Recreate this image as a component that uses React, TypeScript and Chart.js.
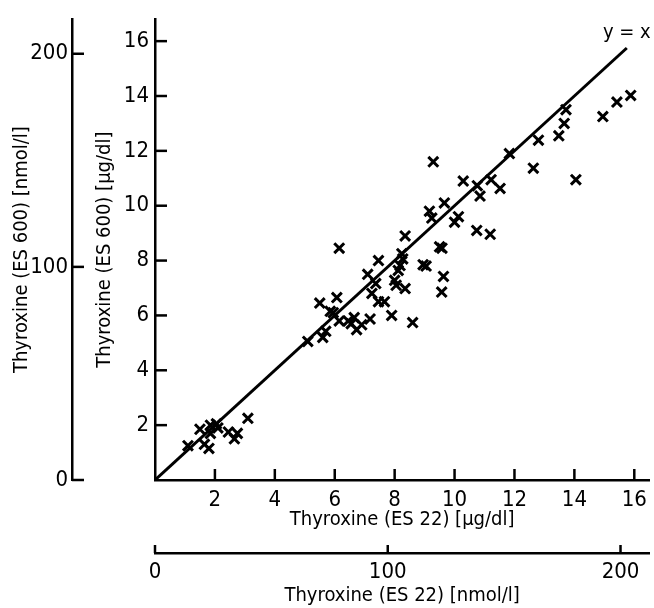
import { useEffect, useRef } from 'react';
import { Chart, registerables } from 'chart.js';

Chart.register(...registerables);

// Thyroxine measured with ES 22 (x) vs ES 600 (y), µg/dl
const es22 = [
  1.1, 1.5, 1.65, 1.8, 1.85, 1.85, 2.05, 2.1, 2.45, 2.65, 2.75, 3.1,
  5.1, 5.5, 5.6, 5.7, 5.85, 5.95, 6.07, 6.15, 6.15, 6.45, 6.55, 6.65, 6.73, 6.9,
  7.1, 7.18, 7.24, 7.37, 7.46, 7.46, 7.66, 7.9, 8.0, 8.05, 8.12, 8.18, 8.24, 8.27,
  8.35, 8.35, 8.6, 8.95, 9.05, 9.16, 9.24, 9.29, 9.5, 9.58, 9.57, 9.63, 9.66,
  10.0, 10.13, 10.29, 10.74, 10.76, 10.85, 11.19, 11.22, 11.52, 11.83,
  12.63, 12.8, 13.48, 13.66, 13.72, 14.05, 14.95, 15.42, 15.88,
];
const es600 = [
  1.25, 1.85, 1.3, 1.15, 1.7, 2.0, 2.05, 1.9, 1.75, 1.5, 1.7, 2.25,
  5.05, 6.45, 5.2, 5.42, 6.15, 6.1, 6.65, 8.45, 5.8, 5.8, 5.7, 5.92, 5.48, 5.66,
  7.5, 5.87, 6.8, 7.16, 6.5, 8.0, 6.5, 6.0, 7.28, 7.1, 7.64, 7.82, 8.25, 8.06,
  8.9, 6.98, 5.74, 7.85, 7.8, 9.8, 9.55, 11.6, 8.5, 8.45, 6.85, 7.42, 10.1,
  9.4, 9.6, 10.9, 9.1, 10.73, 10.35, 8.96, 10.95, 10.63, 11.9,
  11.37, 12.39, 12.55, 13.0, 13.5, 10.95, 13.25, 13.78, 14.02,
];

// identity line y = x
const identityX = [0, 15.75];

const ugTicks = [2, 4, 6, 8, 10, 12, 14, 16];
const nmolTicks = [0, 100, 200];
const NMOL_PER_UG = 12.87;
const X_MAX = 16.5;
const Y_MAX = 16.8;

const FAMILY = '"DejaVu Sans Condensed", "Liberation Sans Narrow", "DejaVu Sans", sans-serif';
const TICK_SIZE = 22;
const TITLE_SIZE = 20;

// inward tick marks (toward the plot) for each axis
const tickLengths: Record<string, number> = { x: 11, x2: 8, y: 12, y2: 12 };

const inwardTicks = {
  id: 'inwardTicks',
  afterDraw(chart: any) {
    const ctx = chart.ctx;
    ctx.save();
    ctx.strokeStyle = '#000';
    ctx.lineWidth = 2.5;
    ctx.lineCap = 'butt';
    Object.keys(tickLengths).forEach((id) => {
      const s = chart.scales[id];
      if (!s) return;
      const len = tickLengths[id];
      s.ticks.forEach((t: any) => {
        const p = s.getPixelForValue(t.value);
        ctx.beginPath();
        if (s.isHorizontal()) {
          ctx.moveTo(p, s.top);
          ctx.lineTo(p, s.top - len);
        } else {
          ctx.moveTo(s.right, p);
          ctx.lineTo(s.right + len, p);
        }
        ctx.stroke();
      });
    });
    ctx.restore();
  },
};

const identityLabel = {
  id: 'identityLabel',
  afterDatasetsDraw(chart: any) {
    const meta = chart.getDatasetMeta(1);
    const pt = meta.data[meta.data.length - 1];
    if (!pt) return;
    const ctx = chart.ctx;
    ctx.save();
    ctx.font = `${TITLE_SIZE}px ${FAMILY}`;
    ctx.fillStyle = '#000';
    ctx.textAlign = 'center';
    ctx.textBaseline = 'bottom';
    ctx.fillText('y = x', pt.x, pt.y - 5);
    ctx.restore();
  },
};

function axisBase(padding: number) {
  return {
    grid: {
      drawOnChartArea: false,
      drawTicks: false,
      tickLength: 0,
    },
    border: { display: true, color: '#000', width: 2.5 },
    ticks: {
      color: '#000',
      padding,
      font: { family: FAMILY, size: TICK_SIZE },
      autoSkip: false,
      maxRotation: 0,
    },
  };
}

export default function App() {
  const ref = useRef<HTMLCanvasElement | null>(null);

  useEffect(() => {
    if (!ref.current) return;
    const points = es22.map((x, i) => ({ x, y: es600[i] }));
    const line = identityX.map((v) => ({ x: v, y: v }));
    const titleFont = { family: FAMILY, size: TITLE_SIZE };

    const chart = new Chart(ref.current, {
      type: 'scatter',
      data: {
        datasets: [
          {
            data: points,
            pointStyle: 'crossRot',
            pointRadius: 7,
            pointBorderWidth: 3,
            borderColor: '#000',
            backgroundColor: '#000',
            showLine: false,
          },
          {
            data: line,
            showLine: true,
            pointRadius: 0,
            borderColor: '#000',
            borderWidth: 3,
          },
        ],
      },
      options: {
        responsive: false,
        animation: false,
        events: [],
        layout: { autoPadding: false, padding: { top: 15, right: 4, left: 0, bottom: 0 } },
        plugins: { legend: { display: false }, tooltip: { enabled: false } },
        scales: {
          x: {
            type: 'linear',
            position: 'bottom',
            weight: 0,
            min: 0,
            max: X_MAX,
            ...axisBase(7),
            afterBuildTicks: (s: any) => {
              s.ticks = ugTicks.map((v) => ({ value: v }));
            },
            afterFit: (s: any) => {
              s.height = 73;
            },
            title: {
              display: true,
              text: 'Thyroxine (ES 22) [µg/dl]',
              color: '#000',
              font: titleFont,
              padding: { top: 0, bottom: 21 },
            },
          },
          x2: {
            type: 'linear',
            position: 'bottom',
            weight: 1,
            min: 0,
            max: X_MAX * NMOL_PER_UG,
            ...axisBase(6),
            afterBuildTicks: (s: any) => {
              s.ticks = nmolTicks.map((v) => ({ value: v }));
            },
            afterFit: (s: any) => {
              s.height = 55;
            },
            title: {
              display: true,
              text: 'Thyroxine (ES 22) [nmol/l]',
              color: '#000',
              font: titleFont,
              padding: { top: 0, bottom: 0 },
            },
          },
          y: {
            type: 'linear',
            position: 'left',
            weight: 0,
            min: 0,
            max: Y_MAX,
            ...axisBase(6),
            afterBuildTicks: (s: any) => {
              s.ticks = ugTicks.map((v) => ({ value: v }));
            },
            afterFit: (s: any) => {
              s.width = 83;
            },
            title: {
              display: true,
              text: 'Thyroxine (ES 600) [µg/dl]',
              color: '#000',
              font: titleFont,
              padding: { top: 21, bottom: 0 },
            },
          },
          y2: {
            type: 'linear',
            position: 'left',
            weight: 1,
            min: 0,
            max: Y_MAX * NMOL_PER_UG,
            ...axisBase(4),
            afterBuildTicks: (s: any) => {
              s.ticks = nmolTicks.map((v) => ({ value: v }));
            },
            afterFit: (s: any) => {
              s.width = 72;
            },
            title: {
              display: true,
              text: 'Thyroxine (ES 600) [nmol/l]',
              color: '#000',
              font: titleFont,
              padding: { top: 10, bottom: 0 },
            },
          },
        },
      },
      plugins: [inwardTicks, identityLabel],
    } as any);

    return () => chart.destroy();
  }, []);

  return (
    <div style={{ position: 'absolute', left: 0, top: 0, width: 654, height: 608, background: '#fff' }}>
      <canvas ref={ref} width={654} height={608} style={{ width: 654, height: 608, display: 'block' }} />
    </div>
  );
}
